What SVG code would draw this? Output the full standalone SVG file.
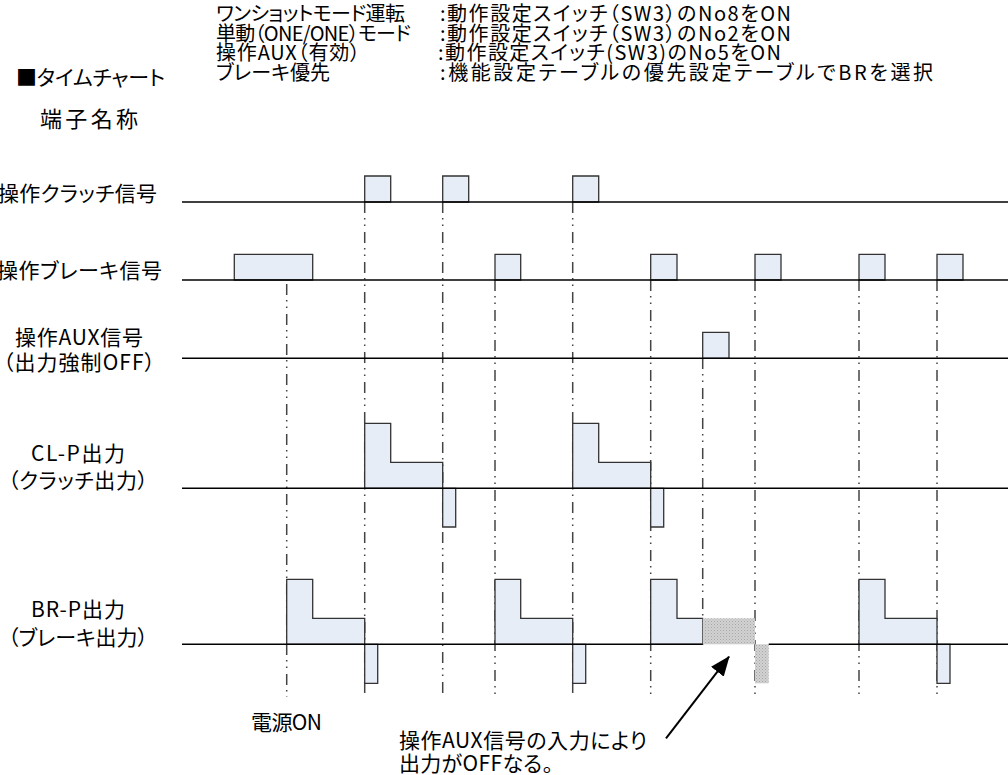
<svg xmlns="http://www.w3.org/2000/svg" width="1008" height="775" viewBox="0 0 1008 775">
<style>
.t{font-family:"Noto Sans CJK JP","Noto Sans",sans-serif;font-size:21px;fill:#000;font-feature-settings:"palt"}
.h{font-size:20px}
.base{stroke:#000;stroke-width:1.5;fill:none}
.grid{stroke:#444;stroke-width:1.5;fill:none;stroke-dasharray:11 5 1.5 5 1.5 6}
.pulse{fill:#e6edf7;stroke:#333;stroke-width:1.3;stroke-linejoin:miter}
.off{fill:url(#dots);stroke:none}
.arrow{stroke:#000;stroke-width:2;fill:none}
</style>
<defs>
<pattern id="dots" width="3" height="3" patternUnits="userSpaceOnUse">
<rect width="3" height="3" fill="#d2d2d2"/>
<rect x="0" y="0" width="1" height="1" fill="#a6a6a6"/>
<rect x="1.5" y="1.5" width="1" height="1" fill="#b4b4b4"/>
</pattern>
<marker id="ah" markerWidth="20" markerHeight="16" refX="19" refY="8" orient="auto" markerUnits="userSpaceOnUse">
<path d="M0,0 L20,8 L0,16 Z" fill="#000"/>
</marker>
</defs>
<rect width="1008" height="775" fill="#fff"/>

<g id="header">
<text class="t h" x="216" y="21" textLength="189">ワンショットモード運転</text>
<text class="t h" x="440" y="21" textLength="351">:動作設定スイッチ（SW3）のNo8をON</text>
<text class="t h" x="216" y="41" textLength="195">単動（ONE/ONE）モード</text>
<text class="t h" x="440" y="41" textLength="351">:動作設定スイッチ（SW3）のNo2をON</text>
<text class="t h" x="216" y="60" textLength="144">操作AUX（有効）</text>
<text class="t h" x="438" y="60" textLength="343">:動作設定スイッチ(SW3)のNo5をON</text>
<text class="t h" x="216" y="80" textLength="114">ブレーキ優先</text>
<text class="t h" x="440" y="80" textLength="493">:機能設定テーブルの優先設定テーブルでBRを選択</text>
<text class="t" x="16" y="85" textLength="149">■タイムチャート</text>
<text class="t" x="40" y="127" style="font-size:22px" textLength="98">端子名称</text>
</g>

<g id="gridlines">
<line class="grid" x1="286.7" y1="254" x2="286.7" y2="697"/>
<line class="grid" x1="364.7" y1="202" x2="364.7" y2="697"/>
<line class="grid" x1="442.7" y1="202" x2="442.7" y2="697"/>
<line class="grid" x1="495" y1="280" x2="495" y2="697"/>
<line class="grid" x1="572.7" y1="202" x2="572.7" y2="697"/>
<line class="grid" x1="650.7" y1="280" x2="650.7" y2="697"/>
<line class="grid" x1="702.7" y1="358" x2="702.7" y2="618"/>
<line class="grid" x1="755" y1="280" x2="755" y2="697"/>
<line class="grid" x1="859" y1="280" x2="859" y2="697"/>
<line class="grid" x1="937" y1="280" x2="937" y2="697"/>
</g>

<g id="sig-clutch">
<text class="t" x="-2" y="201" textLength="159">操作クラッチ信号</text>
<path class="pulse" d="M364.7,202V176H390.7V202Z"/>
<path class="pulse" d="M442.7,202V176H468.7V202Z"/>
<path class="pulse" d="M572.7,202V176H598.7V202Z"/>
<line class="base" x1="182" y1="202" x2="1008" y2="202"/>
</g>

<g id="sig-brake">
<text class="t" x="-3" y="278" textLength="165">操作ブレーキ信号</text>
<path class="pulse" d="M234.3,280V254.3H312.7V280Z"/>
<path class="pulse" d="M495,280V254.3H520.7V280Z"/>
<path class="pulse" d="M650.7,280V254.3H677V280Z"/>
<path class="pulse" d="M755,280V254.3H781V280Z"/>
<path class="pulse" d="M859,280V254.3H885V280Z"/>
<path class="pulse" d="M937,280V254.3H963V280Z"/>
<line class="base" x1="182" y1="280" x2="1008" y2="280"/>
</g>

<g id="sig-aux">
<text class="t" x="15" y="345" textLength="128">操作AUX信号</text>
<text class="t" x="3" y="370" textLength="152">（出力強制OFF）</text>
<path class="pulse" d="M702.7,358.3V332.3H729V358.3Z"/>
<line class="base" x1="182" y1="358.3" x2="1008" y2="358.3"/>
</g>

<g id="out-clp">
<text class="t" x="31" y="461" textLength="94">CL-P出力</text>
<text class="t" x="8" y="488" textLength="140">（クラッチ出力）</text>
<path class="pulse" d="M364.7,488.3V423.3H390.7V462.3H442.7V488.3Z"/>
<path class="pulse" d="M442.7,488.3V527H455.7V488.3Z"/>
<path class="pulse" d="M572.7,488.3V423.3H598.7V462.3H650.7V488.3Z"/>
<path class="pulse" d="M650.7,488.3V527H663.7V488.3Z"/>
<line class="base" x1="182" y1="488.3" x2="1008" y2="488.3"/>
</g>

<g id="out-brp">
<text class="t" x="31" y="617" textLength="94">BR-P出力</text>
<text class="t" x="8" y="645" textLength="140">（ブレーキ出力）</text>
<path class="pulse" d="M286.7,644.3V579.3H312.7V618.3H364.7V644.3Z"/>
<path class="pulse" d="M364.7,644.3V683.3H377.7V644.3Z"/>
<path class="pulse" d="M495,644.3V579.3H520.7V618.3H572.7V644.3Z"/>
<path class="pulse" d="M572.7,644.3V683.3H585.7V644.3Z"/>
<path class="pulse" d="M650.7,644.3V579.3H677V618.3H702.7V644.3Z"/>
<rect class="off" x="702.7" y="618.3" width="52.3" height="26"/>
<rect class="off" x="755" y="644.3" width="13.7" height="39"/>
<path class="pulse" d="M859,644.3V579.3H885V618.3H937V644.3Z"/>
<path class="pulse" d="M937,644.3V683.3H950V644.3Z"/>
<line class="base" x1="182" y1="644.3" x2="702.7" y2="644.3"/>
<line class="base" x1="768.7" y1="644.3" x2="1008" y2="644.3"/>
</g>

<g id="notes">
<text class="t" x="251" y="730" textLength="71">電源ON</text>
<text class="t" x="399" y="748" textLength="248">操作AUX信号の入力により</text>
<text class="t" x="399" y="771" textLength="154">出力がOFFなる。</text>
</g>

<g id="connectors">
<line class="arrow" x1="666" y1="738.3" x2="729" y2="656.7" marker-end="url(#ah)"/>
</g>
</svg>
